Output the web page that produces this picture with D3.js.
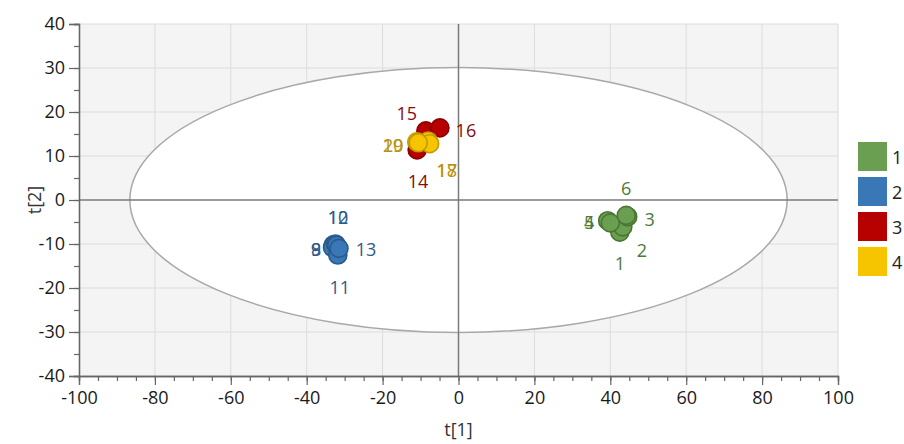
<!DOCTYPE html>
<html>
<head>
<meta charset="utf-8">
<script src="https://cdn.jsdelivr.net/npm/d3@7"></script>
<style>
  html, body { margin: 0; padding: 0; background: #fff; }
  svg { display: block; font-family: "Segoe UI", "Open Sans", "Noto Sans", sans-serif; }
</style>
</head>
<body>
<svg id="chart" width="904" height="444"></svg>
<script>
// Score scatter: t[1] vs t[2], coloured by class
const sampleIds = ["1","2","3","4","5","6","8","9","10","11","12","13","14","15","16","17","18","19","20"];
const classIds  = [1,1,1,1,1,1,2,2,2,2,2,2,3,3,3,4,4,4,4];
const t1Values  = [42.5,43.3,44.6,39.3,40.0,44.2,-33.0,-33.2,-32.4,-31.8,-32.1,-31.5,-10.9,-8.6,-4.9,-8.0,-7.6,-11.0,-10.6];
const t2Values  = [-7.3,-6.1,-3.8,-4.7,-5.2,-3.5,-10.2,-10.8,-10.0,-12.5,-10.3,-11.0,11.4,15.7,16.4,13.4,12.8,13.2,13.0];

const classNames  = ["1","2","3","4"];
const xTicks = [-100,-80,-60,-40,-20,0,20,40,60,80,100];
const yTicks = [-40,-30,-20,-10,0,10,20,30,40];

// Hotelling T2 ellipse semi-axes (in score units)
const ellipseT1 = 86.6;
const ellipseT2 = 30.1;

// Label placement per sample (pixel offset from the marker centre)
const labelOffset = [
  [0,31],[19,23],[22,2],[-18.6,1.3],[-21.2,-0.9],[0,-27],
  [-17,4],[-16.5,1.5],[2.5,-27],[2,32],[1.3,-28.3],[27,1],
  [1,31],[-19,-18],[26,2],[19,29],[17,26],[-24,3],[-25,2]
];

const fillColor   = {1:"#6a9f52", 2:"#3a77b6", 3:"#b70000", 4:"#f6c500"};
const strokeColor = {1:"#4a7533", 2:"#285a8c", 3:"#870000", 4:"#c29a00"};
const textColor   = {1:"#4d7a36", 2:"#2d5c8b", 3:"#8a0a0a", 4:"#b8920c"};

const svg = d3.select("#chart");
const margin = {left: 79, right: 66, top: 24, bottom: 68};
const W = 904, H = 444;
const fontStack = "\"Segoe UI\", \"Open Sans\", \"Noto Sans\", sans-serif";

const x = d3.scaleLinear().domain([-100, 100]).range([margin.left, W - margin.right]);
const y = d3.scaleLinear().domain([-40, 40]).range([H - margin.bottom, margin.top]);

// Plot background
svg.append("rect")
  .attr("x", x(-100)).attr("y", y(40))
  .attr("width", x(100) - x(-100)).attr("height", y(-40) - y(40))
  .attr("fill", "#f4f4f4");

// Grid
svg.append("g").selectAll("line").data(xTicks.filter(d => d !== 0 && d !== -100))
  .join("line")
  .attr("x1", d => x(d)).attr("x2", d => x(d))
  .attr("y1", y(40)).attr("y2", y(-40))
  .attr("stroke", "#dcdcdc").attr("stroke-width", 1);
svg.append("g").selectAll("line").data(yTicks.filter(d => d !== 0 && d !== -40))
  .join("line")
  .attr("x1", x(-100)).attr("x2", x(100))
  .attr("y1", d => y(d)).attr("y2", d => y(d))
  .attr("stroke", "#dcdcdc").attr("stroke-width", 1);

// Confidence ellipse
svg.append("ellipse")
  .attr("cx", x(0)).attr("cy", y(0))
  .attr("rx", x(ellipseT1) - x(0)).attr("ry", y(0) - y(ellipseT2))
  .attr("fill", "#ffffff").attr("stroke", "#a8a8a8").attr("stroke-width", 1.5);

// Zero lines
svg.append("line")
  .attr("x1", x(0)).attr("x2", x(0)).attr("y1", y(40)).attr("y2", y(-40))
  .attr("stroke", "#7a7a7a").attr("stroke-width", 1.5);
svg.append("line")
  .attr("x1", x(-100)).attr("x2", x(100)).attr("y1", y(0)).attr("y2", y(0))
  .attr("stroke", "#7a7a7a").attr("stroke-width", 1.5);

// Axes (plain hyphen for negative numbers)
const minorX = d3.range(-100, 100.1, 5);
const minorY = d3.range(-40, 40.1, 5);
const plain = d => String(d);

const xAxis = svg.append("g").attr("transform", `translate(0,${y(-40)})`);
xAxis.call(d3.axisBottom(x).tickValues(minorX).tickSize(5).tickFormat(""));
xAxis.call(g => g.append("g").call(d3.axisBottom(x).tickValues(xTicks).tickSize(9).tickPadding(6).tickFormat(plain)));

const yAxis = svg.append("g").attr("transform", `translate(${x(-100)},0)`);
yAxis.call(d3.axisLeft(y).tickValues(minorY).tickSize(5).tickFormat(""));
yAxis.call(g => g.append("g").call(d3.axisLeft(y).tickValues(yTicks).tickSize(10).tickPadding(4).tickFormat(plain)));

svg.selectAll(".domain").attr("stroke", "#666").attr("stroke-width", 1.3);
svg.selectAll(".tick line").attr("stroke", "#666").attr("stroke-width", 1.2);
svg.selectAll(".tick text").attr("fill", "#1a1a1a").attr("font-size", 18)
  .attr("font-family", fontStack);

// Axis titles
svg.append("text")
  .attr("x", x(0)).attr("y", 436)
  .attr("text-anchor", "middle").attr("font-size", 18).attr("fill", "#333")
  .text("t[1]");
svg.append("text")
  .attr("transform", `translate(41,${y(0)}) rotate(-90)`)
  .attr("text-anchor", "middle").attr("font-size", 18).attr("fill", "#333")
  .text("t[2]");

// Points
const points = sampleIds.map((id, i) => ({id, cls: classIds[i], t1: t1Values[i], t2: t2Values[i], off: labelOffset[i]}));

svg.append("g").selectAll("circle").data(points)
  .join("circle")
  .attr("cx", d => x(d.t1)).attr("cy", d => y(d.t2)).attr("r", 9)
  .attr("fill", d => fillColor[d.cls])
  .attr("stroke", d => strokeColor[d.cls]).attr("stroke-width", 1.6);

// Sample labels
svg.append("g").selectAll("text").data(points)
  .join("text")
  .attr("x", d => x(d.t1) + d.off[0]).attr("y", d => y(d.t2) + d.off[1])
  .attr("text-anchor", "middle").attr("dominant-baseline", "central")
  .attr("font-size", 18)
  .attr("fill", d => textColor[d.cls])
  .text(d => d.id);

// Legend
const legend = svg.append("g").attr("transform", "translate(858,142)");
const item = legend.selectAll("g").data(classNames).join("g")
  .attr("transform", (d, i) => `translate(0,${i * 35})`);
item.append("rect")
  .attr("width", 29).attr("height", 29)
  .attr("fill", (d, i) => fillColor[i + 1]);
item.append("text")
  .attr("x", 34).attr("y", 14.5).attr("dominant-baseline", "central")
  .attr("font-size", 18).attr("fill", "#222")
  .text(d => d);
</script>
</body>
</html>
